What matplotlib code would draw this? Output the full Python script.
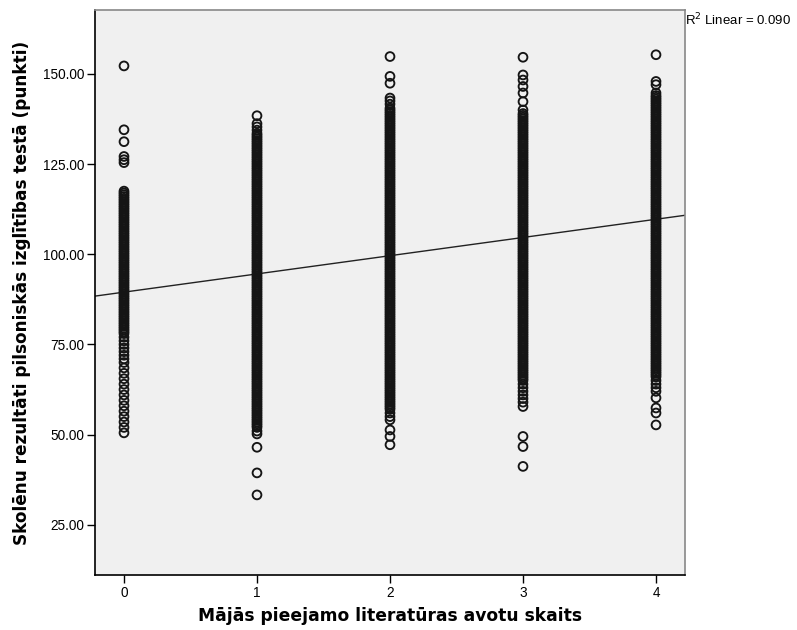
import matplotlib
matplotlib.use('Agg')
import matplotlib.pyplot as plt

# book-count categories on the x axis
groups = [0, 1, 2, 3, 4]
x_ticklabels = ['0', '1', '2', '3', '4']
y_ticks = [25, 50, 75, 100, 125, 150]

# test scores, one list per category
scores_0 = [152.2, 134.5, 131.2, 127.1, 126.2, 125.4,
            117.5, 117, 116, 115, 114, 113, 112, 111, 110, 109, 108, 107, 106, 105,
            104, 103, 102, 101, 100, 99, 98, 97, 96, 95, 94, 93, 92, 91, 90, 89,
            88, 87, 86, 85, 84, 83, 82, 81, 80, 79, 78, 77, 76, 75, 74, 73, 72, 71,
            70, 68.5, 67, 65.5, 64, 62.5, 61, 59.5, 58, 56.5, 55, 53.5, 52, 50.5]
scores_1 = [138.4, 136.2, 135.3, 134.4,
            133.5, 133, 132, 131, 130, 129, 128, 127, 126, 125, 124, 123, 122, 121,
            120, 119, 118, 117, 116, 115, 114, 113, 112, 111, 110, 109, 108, 107,
            106, 105, 104, 103, 102, 101, 100, 99, 98, 97, 96, 95, 94, 93, 92, 91,
            90, 89, 88, 87, 86, 85, 84, 83, 82, 81, 80, 79, 78, 77, 76, 75, 74, 73,
            72, 71, 70, 69, 68, 67, 66, 65, 64, 63, 62, 61, 60, 59, 58, 57, 56, 55,
            54, 53, 52, 51, 50.2, 46.5, 39.4, 33.3]
scores_2 = [154.8, 149.3, 147.4, 143.3, 142.5, 141.6,
            140.5, 140, 139, 138, 137, 136, 135, 134, 133, 132, 131, 130, 129, 128,
            127, 126, 125, 124, 123, 122, 121, 120, 119, 118, 117, 116, 115, 114,
            113, 112, 111, 110, 109, 108, 107, 106, 105, 104, 103, 102, 101, 100,
            99, 98, 97, 96, 95, 94, 93, 92, 91, 90, 89, 88, 87, 86, 85, 84, 83, 82,
            81, 80, 79, 78, 77, 76, 75, 74, 73, 72, 71, 70, 69, 68, 67, 66, 65, 64,
            63, 62, 61, 60, 59, 58, 57, 56, 55, 54.1, 51.3, 49.5, 47.2]
scores_3 = [154.6, 149.7, 148.3, 146.5, 144.7, 142.3,
            140, 139, 138, 137, 136, 135, 134, 133, 132, 131, 130, 129, 128, 127,
            126, 125, 124, 123, 122, 121, 120, 119, 118, 117, 116, 115, 114, 113,
            112, 111, 110, 109, 108, 107, 106, 105, 104, 103, 102, 101, 100, 99, 98,
            97, 96, 95, 94, 93, 92, 91, 90, 89, 88, 87, 86, 85, 84, 83, 82, 81, 80,
            79, 78, 77, 76, 75, 74, 73, 72, 71, 70, 69, 68, 67, 66, 65, 64, 63, 62,
            61, 60, 59, 57.8, 49.5, 46.7, 41.2]
scores_4 = [155.3, 147.9, 147.0, 144.7,
            144, 143, 142, 141, 140, 139, 138, 137, 136, 135, 134, 133, 132, 131,
            130, 129, 128, 127, 126, 125, 124, 123, 122, 121, 120, 119, 118, 117,
            116, 115, 114, 113, 112, 111, 110, 109, 108, 107, 106, 105, 104, 103,
            102, 101, 100, 99, 98, 97, 96, 95, 94, 93, 92, 91, 90, 89, 88, 87, 86,
            85, 84, 83, 82, 81, 80, 79, 78, 77, 76, 75, 74, 73, 72, 71, 70, 69, 68,
            67, 66, 65, 64, 63, 62, 60.2, 57.4, 56.0, 52.7]

# extra scores in the crowded middle of each column (the solid black part)
dense_0 = [116.5, 115.5, 114.5, 113.5, 112.5, 111.5, 110.5, 109.5, 108.5, 107.5,
           106.5, 105.5, 104.5, 103.5, 102.5, 101.5, 100.5, 99.5, 98.5, 97.5, 96.5,
           95.5, 94.5, 93.5, 92.5, 91.5, 90.5, 89.5, 88.5, 87.5, 86.5, 85.5, 84.5,
           83.5, 82.5, 81.5, 80.5, 79.5, 78.5]
dense_1 = [132.5, 131.5, 130.5, 129.5, 128.5, 127.5, 126.5, 125.5, 124.5, 123.5,
           122.5, 121.5, 120.5, 119.5, 118.5, 117.5, 116.5, 115.5, 114.5, 113.5,
           112.5, 111.5, 110.5, 109.5, 108.5, 107.5, 106.5, 105.5, 104.5, 103.5,
           102.5, 101.5, 100.5, 99.5, 98.5, 97.5, 96.5, 95.5, 94.5, 93.5, 92.5, 91.5,
           90.5, 89.5, 88.5, 87.5, 86.5, 85.5, 84.5, 83.5, 82.5, 81.5, 80.5, 79.5,
           78.5, 77.5, 76.5, 75.5, 74.5, 73.5, 72.5, 71.5, 70.5, 69.5, 68.5, 67.5,
           66.5, 65.5, 64.5, 63.5, 62.5, 61.5, 60.5, 59.5, 58.5, 57.5, 56.5, 55.5,
           54.5, 53.5, 52.5]
dense_2 = [139.5, 138.5, 137.5, 136.5, 135.5, 134.5, 133.5, 132.5, 131.5, 130.5,
           129.5, 128.5, 127.5, 126.5, 125.5, 124.5, 123.5, 122.5, 121.5, 120.5,
           119.5, 118.5, 117.5, 116.5, 115.5, 114.5, 113.5, 112.5, 111.5, 110.5,
           109.5, 108.5, 107.5, 106.5, 105.5, 104.5, 103.5, 102.5, 101.5, 100.5,
           99.5, 98.5, 97.5, 96.5, 95.5, 94.5, 93.5, 92.5, 91.5, 90.5, 89.5, 88.5,
           87.5, 86.5, 85.5, 84.5, 83.5, 82.5, 81.5, 80.5, 79.5, 78.5, 77.5, 76.5,
           75.5, 74.5, 73.5, 72.5, 71.5, 70.5, 69.5, 68.5, 67.5, 66.5, 65.5, 64.5,
           63.5, 62.5, 61.5, 60.5, 59.5, 58.5, 57.5]
dense_3 = [138.5, 137.5, 136.5, 135.5, 134.5, 133.5, 132.5, 131.5, 130.5, 129.5,
           128.5, 127.5, 126.5, 125.5, 124.5, 123.5, 122.5, 121.5, 120.5, 119.5,
           118.5, 117.5, 116.5, 115.5, 114.5, 113.5, 112.5, 111.5, 110.5, 109.5,
           108.5, 107.5, 106.5, 105.5, 104.5, 103.5, 102.5, 101.5, 100.5, 99.5,
           98.5, 97.5, 96.5, 95.5, 94.5, 93.5, 92.5, 91.5, 90.5, 89.5, 88.5, 87.5,
           86.5, 85.5, 84.5, 83.5, 82.5, 81.5, 80.5, 79.5, 78.5, 77.5, 76.5, 75.5,
           74.5, 73.5, 72.5, 71.5, 70.5, 69.5, 68.5, 67.5, 66.5, 65.5]
dense_4 = [143.5, 142.5, 141.5, 140.5, 139.5, 138.5, 137.5, 136.5, 135.5, 134.5,
           133.5, 132.5, 131.5, 130.5, 129.5, 128.5, 127.5, 126.5, 125.5, 124.5,
           123.5, 122.5, 121.5, 120.5, 119.5, 118.5, 117.5, 116.5, 115.5, 114.5,
           113.5, 112.5, 111.5, 110.5, 109.5, 108.5, 107.5, 106.5, 105.5, 104.5,
           103.5, 102.5, 101.5, 100.5, 99.5, 98.5, 97.5, 96.5, 95.5, 94.5, 93.5,
           92.5, 91.5, 90.5, 89.5, 88.5, 87.5, 86.5, 85.5, 84.5, 83.5, 82.5, 81.5,
           80.5, 79.5, 78.5, 77.5, 76.5, 75.5, 74.5, 73.5, 72.5, 71.5, 70.5, 69.5,
           68.5, 67.5, 66.5]

all_scores = [scores_0 + dense_0, scores_1 + dense_1, scores_2 + dense_2,
              scores_3 + dense_3, scores_4 + dense_4]

# fit line
fit_intercept = 89.5
fit_slope = 5.05
r2_text = 'R$^2$ Linear = 0.090'

fig = plt.figure(figsize=(7.97, 6.30), dpi=100)
ax = fig.add_axes([95/797, 55/630, 590/797, 565/630])
ax.set_facecolor('#f0f0f0')

for g, vals in zip(groups, all_scores):
    ax.scatter([g] * len(vals), vals, s=40, facecolors='none',
               edgecolors='#151515', linewidths=1.35, zorder=3)

ax.axline((0, fit_intercept), slope=fit_slope, color='#222222', lw=1.0, zorder=2)

ax.set_xlim(-0.218, 4.218)
ax.set_ylim(11.1, 167.7)
ax.set_xticks(groups)
ax.set_xticklabels(x_ticklabels)
ax.set_yticks(y_ticks)
ax.set_yticklabels(['%.2f' % v for v in y_ticks])

for lab in ax.get_xticklabels() + ax.get_yticklabels():
    lab.set_fontfamily('Liberation Sans')
    lab.set_fontsize(9.8)
ax.tick_params(direction='out', length=6, width=1, color='black', pad=2)

for side in ['left', 'bottom']:
    ax.spines[side].set_color('black')
    ax.spines[side].set_linewidth(1.2)
for side in ['top', 'right']:
    ax.spines[side].set_color('#888888')
    ax.spines[side].set_linewidth(1.2)

ax.set_xlabel('Mājās pieejamo literatūras avotu skaits', fontsize=12.3,
              fontweight='bold', labelpad=5)
ax.set_ylabel('Skolēnu rezultāti pilsoniskās izglītības testā (punkti)',
              fontsize=12.2, fontweight='bold', labelpad=8)

ax.text(1.0, 0.982, r2_text, transform=ax.transAxes, ha='left', va='center',
        fontsize=9.5, family='Liberation Sans', clip_on=False)

plt.savefig('out.png', dpi=100)
